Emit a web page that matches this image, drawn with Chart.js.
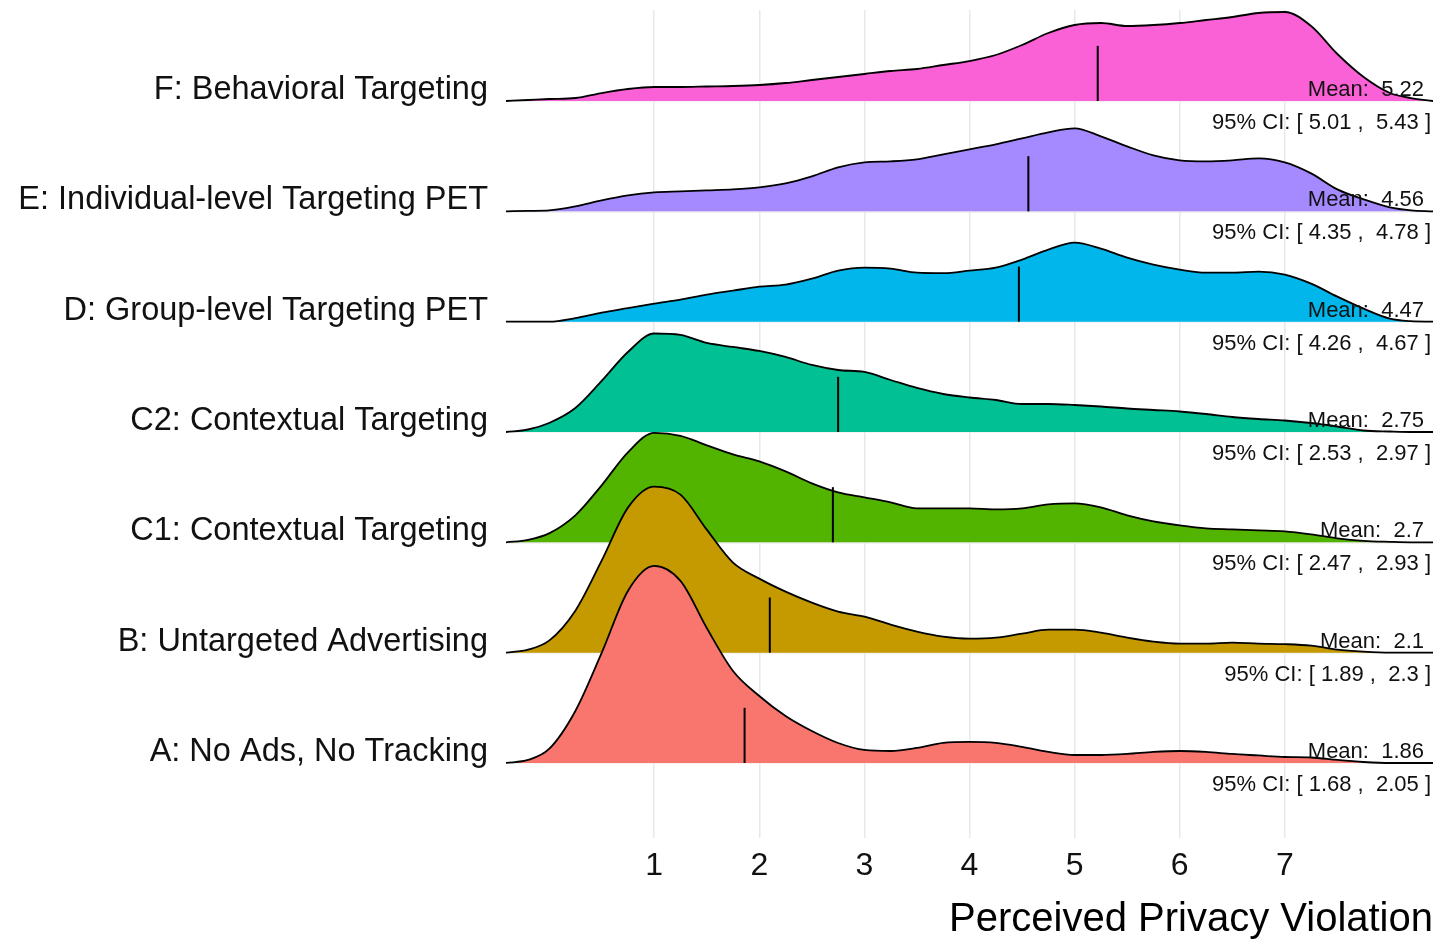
<!DOCTYPE html>
<html>
<head>
<meta charset="utf-8">
<title>Perceived Privacy Violation</title>
<script src="https://cdn.jsdelivr.net/npm/chart.js@4.4.0/dist/chart.umd.min.js"></script>
<style>
  html, body { margin: 0; padding: 0; background: #fff; }
  #wrap { width: 1440px; height: 944px; }
</style>
</head>
<body>
<div id="wrap"><canvas id="chart" width="1440" height="944"></canvas></div>
<script>
// Ridges, bottom to top
const categories = [
	'A: No Ads, No Tracking',
	'B: Untargeted Advertising',
	'C1: Contextual Targeting',
	'C2: Contextual Targeting',
	'D: Group-level Targeting PET',
	'E: Individual-level Targeting PET',
	'F: Behavioral Targeting'
];

// Evaluation grid for the density curves
const xs = [-0.41, -0.2, 0, 0.25, 0.5, 0.75, 1, 1.25, 1.5, 1.75, 2, 2.25, 2.5, 2.75, 3, 3.25, 3.5, 3.75,
	4, 4.25, 4.5, 4.75, 5, 5.25, 5.5, 5.75, 6, 6.25, 6.5, 6.75, 7, 7.25, 7.5, 7.75, 8, 8.2, 8.41];

// Density estimates (scaled), one value per grid point
const densA = [0, 3, 14, 52, 110, 172, 197, 182, 135, 92, 67, 47, 32, 20, 13, 12, 15, 20,
	21, 20, 16, 11, 8, 8, 9, 11, 12, 11, 9, 7.5, 6, 5.5, 3, 1, 0, 0, 0];
const densB = [0, 3, 12, 42, 92, 145, 166, 158, 123, 90, 74, 61, 50, 41, 36, 28, 21, 16,
	14, 15, 19, 23, 23, 20, 15, 11, 9, 9, 10, 9, 8.5, 7, 3, 1, 0, 0, 0];
const densC1 = [0, 2.5, 9, 27, 57, 90, 109.5, 106.5, 97, 88, 81, 71, 59, 50, 45, 40, 34, 34,
	34, 33, 34, 38, 39, 35, 27, 21, 17, 14, 13, 12, 11, 8, 4, 1.5, 0.5, 0, 0];
const densC2 = [0, 2.5, 9, 24, 51, 80, 98.5, 97, 89, 85, 81, 75, 67, 62, 60, 52, 44, 38,
	34.5, 32, 28, 28, 27, 25.5, 23.5, 22, 20.5, 18, 15, 13, 11.5, 9, 5.5, 1.5, 0.5, 0, 0];
const densD = [0, 0, 0, 3.5, 9, 13.5, 18, 22, 27, 31, 35, 37, 43, 51, 54, 53, 49, 48.5,
	51, 54, 62, 72, 79, 73, 64, 57, 52, 49, 49, 50, 47, 38, 25, 13, 3, 0.5, 0];
const densE = [0, 0.5, 1, 5, 11, 16, 19, 20, 21, 22, 24, 28, 35, 44, 49, 50, 52, 57,
	62, 67, 73, 79, 83, 75, 65, 56, 51, 50, 51, 53, 49, 38, 22, 12, 4, 1, 0];
const densF = [0, 1, 2, 3, 8, 12, 14, 14, 14.5, 15, 16, 18, 21, 24, 27, 30, 32, 36,
	40, 46, 56, 68, 76, 78, 75, 76, 78, 81, 84, 88, 89, 75, 47, 24, 8, 3, 0];

const means = [1.86, 2.1, 2.7, 2.75, 4.47, 4.56, 5.22];
const ciLow = [1.68, 1.89, 2.47, 2.53, 4.26, 4.35, 5.01];
const ciHigh = [2.05, 2.3, 2.93, 2.97, 4.67, 4.78, 5.43];

const xTicks = [1, 2, 3, 4, 5, 6, 7];

const densities = [densA, densB, densC1, densC2, densD, densE, densF];
const colors = ['#F8766D', '#C49A00', '#53B400', '#00C094', '#00B6EB', '#A58AFF', '#FB61D7'];

const fontFamily = '"Liberation Sans", Arial, sans-serif';
const textColor = '#111';
const gridColor = '#e8e8e8';
const ridgeScale = 1 / 110.3; // density -> ridge height in rows
const meanBarHeight = 0.5;

// First dataset is drawn last, so the lowest ridge ends up on top
const datasets = [];
categories.forEach((cat, i) => {
	datasets.push({
		label: cat + ' mean',
		data: [{ x: means[i], y: i }, { x: means[i], y: i + meanBarHeight }],
		borderColor: '#000',
		borderWidth: 2,
		borderCapStyle: 'butt',
		pointRadius: 0,
		fill: false
	});
	datasets.push({
		label: cat,
		data: xs.map((x, j) => ({ x: x, y: i + densities[i][j] * ridgeScale })),
		borderColor: '#000',
		borderWidth: 1.8,
		backgroundColor: colors[i],
		fill: { value: i },
		pointRadius: 0,
		cubicInterpolationMode: 'monotone'
	});
});

// Mean and CI text at the right end of each ridge
const ridgeLabels = {
	id: 'ridgeLabels',
	afterDatasetsDraw(chart) {
		const { ctx, scales: { x, y } } = chart;
		const right = x.getPixelForValue(x.max);
		ctx.save();
		ctx.font = '22px ' + fontFamily;
		ctx.fillStyle = textColor;
		ctx.textAlign = 'right';
		ctx.textBaseline = 'alphabetic';
		categories.forEach((cat, i) => {
			const base = y.getPixelForValue(i);
			ctx.fillText('Mean:  ' + means[i], right - 9, base - 5);
			ctx.fillText('95% CI: [ ' + ciLow[i] + ' ,  ' + ciHigh[i] + ' ]', right - 2, base + 28);
		});
		ctx.restore();
	}
};

const canvas = document.getElementById('chart');

const graph = new Chart(canvas, {
	type: 'line',
	data: { datasets: datasets },
	options: {
		responsive: false,
		animation: false,
		events: [],
		layout: { padding: { top: 10, right: 7, bottom: 0, left: 0 } },
		plugins: {
			legend: { display: false },
			tooltip: { enabled: false }
		},
		scales: {
			x: {
				type: 'linear',
				min: -0.41,
				max: 8.41,
				afterBuildTicks: (scale) => {
					scale.ticks = xTicks.map((v) => ({ value: v }));
				},
				afterFit: (scale) => {
					scale.height = 106;
					scale.paddingLeft = 0;
					scale.paddingRight = 0;
				},
				grid: { color: gridColor, lineWidth: 1.5, drawTicks: false },
				border: { display: false },
				ticks: {
					font: { size: 32, family: fontFamily },
					color: textColor,
					padding: 9,
					maxRotation: 0
				},
				title: {
					display: true,
					text: 'Perceived Privacy Violation',
					align: 'end',
					color: '#000',
					font: { size: 40, family: fontFamily },
					padding: { top: 0, bottom: 0 }
				}
			},
			y: {
				type: 'linear',
				min: -0.68,
				max: 6.825,
				afterBuildTicks: (scale) => {
					scale.ticks = categories.map((c, i) => ({ value: i }));
				},
				afterFit: (scale) => {
					scale.width = 506;
					scale.paddingTop = 0;
					scale.paddingBottom = 0;
				},
				grid: { color: gridColor, lineWidth: 1.5, drawTicks: false },
				border: { display: false },
				ticks: {
					callback: (value) => categories[value],
					font: { size: 32.5, family: fontFamily },
					color: textColor,
					padding: 18,
					labelOffset: -11
				}
			}
		}
	},
	plugins: [ridgeLabels]
});
</script>
</body>
</html>
